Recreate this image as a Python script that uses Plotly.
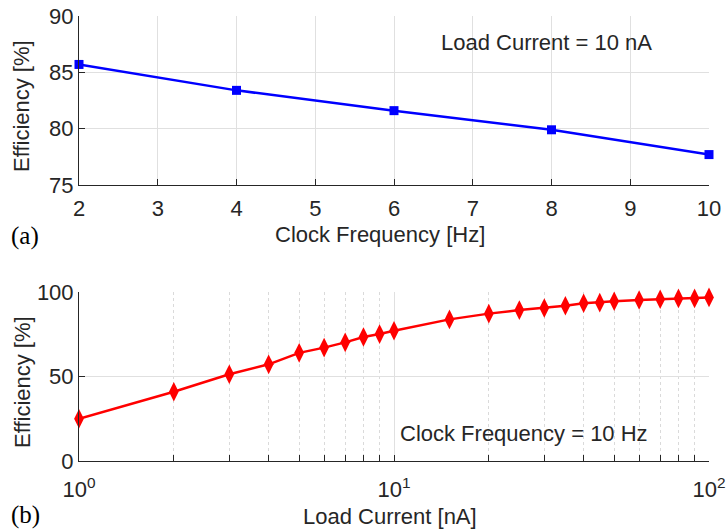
import plotly.graph_objects as go

# (a) efficiency vs clock frequency at 10 nA load
clock_freq_hz = [2, 4, 6, 8, 10]
eff_vs_freq = [85.7, 83.4, 81.6, 79.9, 77.7]

# (b) efficiency vs load current at 10 Hz clock
load_current_na = [1, 2, 3, 4, 5, 6, 7, 8, 9, 10, 15, 20, 25, 30, 35, 40, 45, 50,
                   60, 70, 80, 90, 100]
eff_vs_load = [25.0, 41.0, 51.3, 57.2, 64.0, 67.1, 70.2, 73.4, 75.1, 77.1, 83.8,
               87.2, 89.3, 90.5, 91.9, 93.3, 93.7, 94.5, 95.3, 95.7, 96.2, 96.2, 96.8]

top_yticks = [75, 80, 85, 90]
bottom_yticks = [0, 50, 100]
log_tickvals = [1, 10, 100]
log_ticktext = ["10<sup>0</sup>", "10<sup>1</sup>", "10<sup>2</sup>"]

W, H = 726, 531
SANS = "Liberation Sans, Arial, sans-serif"
SERIF = "Liberation Serif, Times New Roman, serif"
INK = "#262626"
GRID = "#e0e0e0"
FS = 22


def px_x(p):
    return p / W


def px_y(p):
    return 1 - p / H


fig = go.Figure()
fig.add_trace(go.Scatter(
    x=clock_freq_hz, y=eff_vs_freq, mode="lines+markers",
    line=dict(color="#0000ff", width=2.5),
    marker=dict(symbol="square", size=9, color="#0000ff"),
    xaxis="x", yaxis="y", showlegend=False, cliponaxis=False,
))
fig.add_trace(go.Scatter(
    x=load_current_na, y=eff_vs_load, mode="lines+markers",
    line=dict(color="#ff0000", width=2.5),
    marker=dict(symbol="diamond-tall", size=14, color="#ff0000"),
    xaxis="x2", yaxis="y2", showlegend=False, cliponaxis=False,
))

axis_common = dict(
    showline=True, linecolor=INK, linewidth=1, mirror=False,
    ticks="inside", ticklen=6, tickcolor=INK, tickwidth=1,
    tickfont=dict(family=SANS, size=FS, color=INK),
    showgrid=True, gridcolor=GRID, gridwidth=1, zeroline=False,
    automargin=False,
)

x_dom = [px_x(79), px_x(709)]

fig.update_layout(
    width=W, height=H,
    margin=dict(l=0, r=0, t=0, b=0),
    paper_bgcolor="white", plot_bgcolor="white",
    xaxis=dict(axis_common, domain=x_dom, range=[2, 10], tickvals=list(range(2, 11)),
               anchor="y", ticklabelstandoff=4),
    yaxis=dict(axis_common, domain=[px_y(185), px_y(16)], range=[75, 90],
               tickvals=top_yticks, anchor="x"),
    xaxis2=dict(axis_common, domain=x_dom, type="log", range=[0, 2],
                tickvals=log_tickvals, ticktext=log_ticktext, anchor="y2",
                ticklabelstandoff=9,
                minor=dict(ticks="inside", ticklen=6, tickcolor=INK,
                           showgrid=True, gridcolor="#dadada", griddash="dot",
                           tickvals=[2, 3, 4, 5, 6, 7, 8, 9,
                                     20, 30, 40, 50, 60, 70, 80, 90])),
    yaxis2=dict(axis_common, domain=[px_y(461), px_y(292)], range=[0, 100],
                tickvals=bottom_yticks, anchor="x2"),
)

annotations = [
    dict(text="Load Current = 10 nA", x=px_x(546), y=px_y(43)),
    dict(text="Clock Frequency = 10 Hz", x=px_x(524), y=px_y(433)),
    dict(text="Clock Frequency [Hz]", x=px_x(380), y=px_y(235)),
    dict(text="Load Current [nA]", x=px_x(390), y=px_y(516)),
    dict(text="Efficiency [%]", x=px_x(22), y=px_y(106), textangle=-90),
    dict(text="Efficiency [%]", x=px_x(22), y=px_y(382), textangle=-90),
]
for a in annotations:
    fig.add_annotation(xref="paper", yref="paper", showarrow=False,
                       xanchor="center", yanchor="middle",
                       font=dict(family=SANS, size=FS, color=INK), **a)

for label, yc in [("(a)", 236), ("(b)", 515)]:
    fig.add_annotation(text=label, xref="paper", yref="paper", showarrow=False,
                       x=px_x(9), y=px_y(yc), xanchor="left", yanchor="middle",
                       font=dict(family=SERIF, size=25, color="black"))

fig.write_html("out.html")
